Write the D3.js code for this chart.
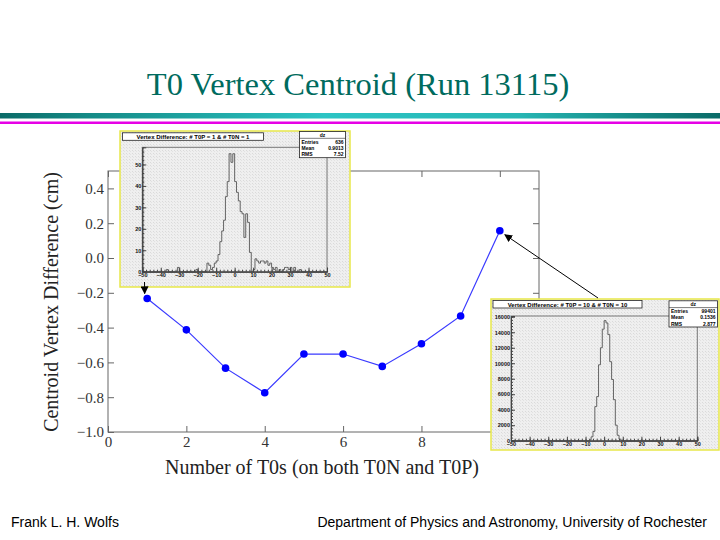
<!DOCTYPE html>
<html>
<head>
<meta charset="utf-8">
<script src="https://cdn.jsdelivr.net/npm/d3@7"></script>
<style>
  body { margin: 0; background: #fff; }
  svg { display: block; }
</style>
</head>
<body>
<script>
// main graph data
var nT0 = [1, 2, 3, 4, 5, 6, 7, 8, 9, 10];
var centroid = [-0.233, -0.413, -0.633, -0.774, -0.552, -0.552, -0.623, -0.493, -0.333, 0.157];
var xTicks = [0, 2, 4, 6, 8, 10];
var yTicks = [-1.0, -0.8, -0.6, -0.4, -0.2, 0.0, 0.2, 0.4];

// inset 1 histogram (# T0P = 1 & # T0N = 1), bin left edges and counts
var h1Bins = [-37, -31, -21, -15, -14, -13, -12, -11, -10, -9, -8, -7, -6, -5, -4, -3, -2, -1,
              0, 1, 2, 3, 4, 5, 6, 7, 8, 10, 11, 12, 13, 14, 15, 16, 17, 18, 19, 20, 21, 22,
              24, 26, 27, 28, 29, 30, 32, 35];
var h1Counts = [1, 2, 1, 4, 3, 1, 2, 4, 5, 8, 14, 19, 24, 35, 42, 55, 51, 55,
                42, 37, 33, 28, 27, 16, 27, 23, 9, 1, 6, 5, 4, 5, 5, 4, 5, 3, 4, 2, 1, 2,
                1, 1, 2, 2, 1, 2, 2, 1];
var h1Stats = [["Entries", "636"], ["Mean", "0.9013"], ["RMS", "7.52"]];
var h1YTicks = [0, 10, 20, 30, 40, 50];

// inset 2 histogram (# T0P = 10 & # T0N = 10)
var h2Bins = [-8, -7, -6, -5, -4, -3, -2, -1, 0, 1, 2, 3, 4, 5, 6, 7, 8, 9];
var h2Counts = [100, 500, 1200, 4400, 5700, 9800, 12000, 14400, 15500, 15200, 13700, 10200,
                7900, 5300, 2000, 700, 200, 50];
var h2Stats = [["Entries", "99401"], ["Mean", "0.1536"], ["RMS", "2.877"]];
var h2YTicks = [0, 2000, 4000, 6000, 8000, 10000, 12000, 14000, 16000];

var hXTicks = [-50, -40, -30, -20, -10, 0, 10, 20, 30, 40, 50];

var width = 720, height = 540;
var serif = "'Liberation Serif', 'Times New Roman', serif";
var sans = "'Liberation Sans', Arial, sans-serif";

var svg = d3.select("body").append("svg")
    .attr("width", width)
    .attr("height", height);

var defs = svg.append("defs");

// teal band gradient
var grad = defs.append("linearGradient").attr("id", "band");
grad.append("stop").attr("offset", "0%").attr("stop-color", "#0b6b68");
grad.append("stop").attr("offset", "12%").attr("stop-color", "#148a86");
grad.append("stop").attr("offset", "45%").attr("stop-color", "#2cc4c4");
grad.append("stop").attr("offset", "72%").attr("stop-color", "#27b6b4");
grad.append("stop").attr("offset", "88%").attr("stop-color", "#148a86");
grad.append("stop").attr("offset", "100%").attr("stop-color", "#0b6b68");

// hatched gray background for the ROOT canvases
var pat = defs.append("pattern").attr("id", "hatch")
    .attr("width", 3).attr("height", 3)
    .attr("patternUnits", "userSpaceOnUse");
pat.append("rect").attr("width", 3).attr("height", 3).attr("fill", "#efefef");
pat.append("rect").attr("x", 0).attr("y", 0).attr("width", 1).attr("height", 1).attr("fill", "#dadada");
pat.append("rect").attr("x", 1).attr("y", 1).attr("width", 1).attr("height", 1).attr("fill", "#e2e2e2");

var arrowHead = defs.append("marker").attr("id", "head")
    .attr("viewBox", "0 0 10 10")
    .attr("refX", 9).attr("refY", 5)
    .attr("markerWidth", 8).attr("markerHeight", 8)
    .attr("markerUnits", "userSpaceOnUse")
    .attr("orient", "auto");
arrowHead.append("path").attr("d", "M0,0 L10,5 L0,10 z").attr("fill", "#000");

// title and decorations
svg.append("text")
    .attr("x", 358).attr("y", 95)
    .attr("text-anchor", "middle")
    .attr("font-family", serif)
    .attr("font-size", 32.5)
    .attr("fill", "#006b5e")
    .text("T0 Vertex Centroid (Run 13115)");

svg.append("rect").attr("x", 0).attr("y", 113).attr("width", width).attr("height", 5.5)
    .attr("fill", "url(#band)");
svg.append("rect").attr("x", 0).attr("y", 121.5).attr("width", width).attr("height", 2.5)
    .attr("fill", "#e600e6");

// footer
svg.append("text").attr("x", 11).attr("y", 527)
    .attr("font-family", sans).attr("font-size", 14)
    .text("Frank L. H. Wolfs");
svg.append("text").attr("x", 707).attr("y", 527)
    .attr("text-anchor", "end")
    .attr("font-family", sans).attr("font-size", 14)
    .text("Department of Physics and Astronomy, University of Rochester");

// main graph
var gLeft = 108, gRight = 539, gTop = 171, gBottom = 432;

var x = d3.scaleLinear().domain([0, 11]).range([gLeft, gRight]);
var y = d3.scaleLinear().domain([-1.0, 0.5]).range([gBottom, gTop]);

var g = svg.append("g");

g.append("rect")
    .attr("x", gLeft).attr("y", gTop)
    .attr("width", gRight - gLeft).attr("height", gBottom - gTop)
    .attr("fill", "none").attr("stroke", "#666").attr("stroke-width", 1);

var axisStyle = function(sel) {
    sel.select(".domain").remove();
    sel.selectAll(".tick line").attr("stroke", "#666");
    sel.selectAll(".tick text")
        .attr("font-family", serif)
        .attr("font-size", 15)
        .attr("fill", "#333");
};

g.append("g")
    .attr("transform", "translate(0," + gBottom + ")")
    .call(d3.axisBottom(x).tickValues(xTicks).tickFormat(d3.format("d")).tickSize(-6).tickPadding(4))
    .call(axisStyle);
g.append("g")
    .attr("transform", "translate(0," + gTop + ")")
    .call(d3.axisTop(x).tickValues(xTicks).tickFormat("").tickSize(-6))
    .call(axisStyle);
g.append("g")
    .attr("transform", "translate(" + gLeft + ",0)")
    .call(d3.axisLeft(y).tickValues(yTicks).tickFormat(d3.format(".1f")).tickSize(-6).tickPadding(4))
    .call(axisStyle);
g.append("g")
    .attr("transform", "translate(" + gRight + ",0)")
    .call(d3.axisRight(y).tickValues(yTicks).tickFormat("").tickSize(-6))
    .call(axisStyle);

var pts = nT0.map(function(d, i) { return [d, centroid[i]]; });

g.append("path")
    .datum(pts)
    .attr("fill", "none")
    .attr("stroke", "#3a3aff")
    .attr("stroke-width", 1.2)
    .attr("d", d3.line().x(function(d) { return x(d[0]); }).y(function(d) { return y(d[1]); }));

g.selectAll("circle.pt")
    .data(pts)
    .enter().append("circle")
    .attr("class", "pt")
    .attr("cx", function(d) { return x(d[0]); })
    .attr("cy", function(d) { return y(d[1]); })
    .attr("r", 3.8)
    .attr("fill", "#0000ff");

svg.append("text")
    .attr("transform", "translate(58,302) rotate(-90)")
    .attr("text-anchor", "middle")
    .attr("font-family", serif)
    .attr("font-size", 20)
    .attr("fill", "#222")
    .text("Centroid Vertex Difference (cm)");

svg.append("text")
    .attr("x", 322).attr("y", 474)
    .attr("text-anchor", "middle")
    .attr("font-family", serif)
    .attr("font-size", 20)
    .attr("fill", "#222")
    .text("Number of T0s (on both T0N and T0P)");

// ROOT histogram insets
function drawInset(o, bins, counts, stats, yTickVals, yMax, titleText) {
    var ig = svg.append("g");
    ig.append("rect")
        .attr("x", o.x0).attr("y", o.y0)
        .attr("width", o.x1 - o.x0).attr("height", o.y1 - o.y0)
        .attr("fill", "url(#hatch)")
        .attr("stroke", "#e8e84a").attr("stroke-width", 1.5);

    var hx = d3.scaleLinear().domain([-50, 50]).range([o.fx0, o.fx1]);
    var hy = d3.scaleLinear().domain([0, yMax]).range([o.fy1, o.fy0]);

    ig.append("rect")
        .attr("x", o.fx0).attr("y", o.fy0)
        .attr("width", o.fx1 - o.fx0).attr("height", o.fy1 - o.fy0)
        .attr("fill", "none").attr("stroke", "#777").attr("stroke-width", 1);

    // full binning from -50 to 50, width 1
    var full = d3.range(-50, 50).map(function(v) {
        var k = bins.indexOf(v);
        return [v, k >= 0 ? counts[k] : 0];
    });
    full.push([50, 0]);
    ig.append("path")
        .datum(full)
        .attr("fill", "none")
        .attr("stroke", "#555")
        .attr("stroke-width", 0.9)
        .attr("d", d3.line().curve(d3.curveStepAfter)
            .x(function(d) { return hx(d[0]); })
            .y(function(d) { return hy(d[1]); }));

    var small = function(sel) {
        sel.select(".domain").attr("stroke", "#444");
        sel.selectAll(".tick line").attr("stroke", "#444");
        sel.selectAll(".tick text")
            .attr("font-family", sans)
            .attr("font-weight", "bold")
            .attr("font-size", 5.5)
            .attr("fill", "#111");
    };

    ig.append("g")
        .attr("transform", "translate(0," + o.fy1 + ")")
        .call(d3.axisBottom(hx).tickValues(d3.range(-50, 51, 2)).tickSize(-2).tickFormat(""))
        .call(small);
    ig.append("g")
        .attr("transform", "translate(0," + o.fy1 + ")")
        .call(d3.axisBottom(hx).tickValues(hXTicks).tickSize(-4).tickPadding(1))
        .call(small);
    ig.append("g")
        .attr("transform", "translate(" + o.fx0 + ",0)")
        .call(d3.axisLeft(hy).tickValues(d3.range(0, yMax, yTickVals[1] / 5)).tickSize(-2).tickFormat(""))
        .call(small);
    ig.append("g")
        .attr("transform", "translate(" + o.fx0 + ",0)")
        .call(d3.axisLeft(hy).tickValues(yTickVals).tickSize(-4).tickPadding(1).tickFormat(d3.format("d")))
        .call(small);

    // title box
    ig.append("rect")
        .attr("x", o.tx0).attr("y", o.ty0)
        .attr("width", o.tx1 - o.tx0).attr("height", 7.5)
        .attr("fill", "#fff").attr("stroke", "#222").attr("stroke-width", 0.8);
    ig.append("text")
        .attr("x", (o.tx0 + o.tx1) / 2).attr("y", o.ty0 + 6)
        .attr("text-anchor", "middle")
        .attr("font-family", sans).attr("font-weight", "bold")
        .attr("font-size", 6)
        .text(titleText);

    // stats box
    var sw = o.sx1 - o.sx0, rowH = 6.3;
    ig.append("rect")
        .attr("x", o.sx0).attr("y", o.sy0)
        .attr("width", sw).attr("height", rowH * 4 + 1)
        .attr("fill", "#fff").attr("stroke", "#222").attr("stroke-width", 0.8);
    ig.append("line")
        .attr("x1", o.sx0).attr("x2", o.sx1)
        .attr("y1", o.sy0 + rowH + 0.5).attr("y2", o.sy0 + rowH + 0.5)
        .attr("stroke", "#222").attr("stroke-width", 0.6);
    ig.append("text")
        .attr("x", o.sx0 + sw / 2).attr("y", o.sy0 + 5)
        .attr("text-anchor", "middle")
        .attr("font-family", sans).attr("font-weight", "bold").attr("font-size", 5)
        .text("dz");
    stats.forEach(function(s, i) {
        var yy = o.sy0 + rowH * (i + 2) - 0.5;
        ig.append("text").attr("x", o.sx0 + 2).attr("y", yy)
            .attr("font-family", sans).attr("font-weight", "bold").attr("font-size", 5)
            .text(s[0]);
        ig.append("text").attr("x", o.sx1 - 2).attr("y", yy)
            .attr("text-anchor", "end")
            .attr("font-family", sans).attr("font-weight", "bold").attr("font-size", 5)
            .text(s[1]);
    });
}

drawInset({x0: 120, x1: 350, y0: 131, y1: 287,
           fx0: 142.3, fx1: 327, fy0: 147.3, fy1: 271.7,
           tx0: 122.5, tx1: 263.5, ty0: 132.8,
           sx0: 299.5, sx1: 345.5, sy0: 131.5},
          h1Bins, h1Counts, h1Stats, h1YTicks, 58, "Vertex Difference: # T0P = 1 & # T0N = 1");

drawInset({x0: 491, x1: 719, y0: 299, y1: 450,
           fx0: 511, fx1: 697.3, fy0: 316, fy1: 440.7,
           tx0: 493, tx1: 642, ty0: 300.5,
           sx0: 669, sx1: 717.5, sy0: 300.8},
          h2Bins, h2Counts, h2Stats, h2YTicks, 16100, "Vertex Difference: # T0P = 10 & # T0N = 10");

// arrows from the insets to their points
svg.append("line")
    .attr("x1", 144.5).attr("y1", 282)
    .attr("x2", x(nT0[0]) - 2.5).attr("y2", y(centroid[0]) - 5)
    .attr("stroke", "#000").attr("stroke-width", 1)
    .attr("marker-end", "url(#head)");
svg.append("line")
    .attr("x1", 598).attr("y1", 298)
    .attr("x2", x(nT0[9]) + 5).attr("y2", y(centroid[9]) + 4)
    .attr("stroke", "#000").attr("stroke-width", 1)
    .attr("marker-end", "url(#head)");
</script>
</body>
</html>
